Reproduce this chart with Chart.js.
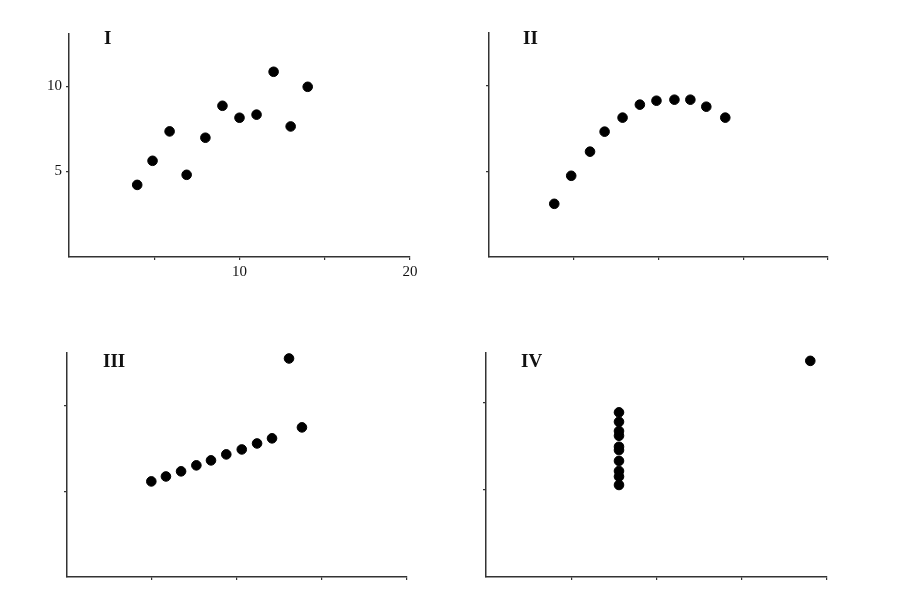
<!DOCTYPE html>
<html>
<head>
<meta charset="utf-8">
<script src="https://cdn.jsdelivr.net/npm/chart.js@4"></script>
<style>
  html, body { margin: 0; padding: 0; background: #fff; }
  #wrap { position: relative; width: 912px; height: 613px; overflow: hidden; }
  #wrap canvas { position: absolute; }
</style>
</head>
<body>
<div id="wrap"></div>
<script>
// Anscombe-style quartet, values

const xI  = [4.0, 4.9, 5.9, 6.9, 8.0, 9.0, 10.0, 11.0, 12.0, 13.0, 14.0];
const yI  = [4.22, 5.63, 7.35, 4.81, 6.98, 8.85, 8.15, 8.33, 10.84, 7.64, 9.96];

const xII = [3.85, 4.85, 5.96, 6.82, 7.88, 8.9, 9.88, 10.94, 11.88, 12.82, 13.94];
const yII = [3.11, 4.75, 6.16, 7.33, 8.15, 8.91, 9.14, 9.20, 9.20, 8.79, 8.15];

const xIII = [4.96, 5.82, 6.71, 7.61, 8.47, 9.37, 10.28, 11.18, 12.06, 13.06, 13.82];
const yIII = [5.59, 5.88, 6.18, 6.53, 6.82, 7.17, 7.46, 7.81, 8.11, 12.78, 8.75];

const xIV = [7.8, 7.8, 7.8, 7.8, 7.8, 7.8, 7.8, 7.8, 7.8, 7.8, 19.02];
const yIV = [9.43, 8.89, 8.36, 8.09, 7.46, 7.27, 6.65, 6.07, 5.75, 5.27, 12.38];

const panelNames = ['I', 'II', 'III', 'IV'];
const xTickValues = [5, 10, 15, 20];
const yTickValues = [5, 10];
const xTickLabels = [10, 20];   // only shown on panel I
const yTickLabels = [5, 10];

const AXIS = '#333';
const SERIF = '"Liberation Serif", "DejaVu Serif", serif';

// plot box of each panel on the page
const panels = [
  { xs: xI,   ys: yI,   box: { L: 69,  T: 34,  R: 410, B: 257 }, yMax: 13.05, labels: true,  nameAt: [35, 10] },
  { xs: xII,  ys: yII,  box: { L: 489, T: 33,  R: 828, B: 257 }, yMax: 13.1,  labels: false, nameAt: [34, 11] },
  { xs: xIII, ys: yIII, box: { L: 67,  T: 353, R: 407, B: 577 }, yMax: 13.1,  labels: false, nameAt: [36, 14] },
  { xs: xIV,  ys: yIV,  box: { L: 486, T: 353, R: 827, B: 577 }, yMax: 12.83, labels: false, nameAt: [35, 14] }
];

const PAD_L = 10, PAD_T = 20, PAD_R = 12, Y_W = 40, X_H = 30;

// draws the roman numeral inside the plot area
const panelName = {
  id: 'panelName',
  afterDraw: (chart, args, opts) => {
    const ctx = chart.ctx;
    const a = chart.chartArea;
    ctx.save();
    ctx.fillStyle = '#111';
    ctx.font = 'bold 19px ' + SERIF;
    ctx.textBaseline = 'alphabetic';
    ctx.textAlign = 'left';
    ctx.fillText(opts.text, a.left + opts.dx, a.top + opts.dy);
    ctx.restore();
  }
};

const wrap = document.getElementById('wrap');

panels.forEach((p, i) => {
  const b = p.box;
  const canvas = document.createElement('canvas');
  const w = (b.R - b.L) + PAD_L + Y_W + PAD_R;
  const h = (b.B - b.T) + PAD_T + X_H;
  canvas.width = w;
  canvas.height = h;
  canvas.style.width = w + 'px';
  canvas.style.height = h + 'px';
  canvas.style.left = (b.L - PAD_L - Y_W) + 'px';
  canvas.style.top = (b.T - PAD_T) + 'px';
  wrap.appendChild(canvas);

  const points = p.xs.map((x, k) => ({ x: x, y: p.ys[k] }));

  new Chart(canvas, {
    type: 'scatter',
    data: {
      datasets: [{
        data: points,
        backgroundColor: '#000',
        borderColor: '#000',
        pointRadius: 4.8,
        pointHoverRadius: 4.8,
        clip: false
      }]
    },
    options: {
      responsive: false,
      animation: false,
      events: [],
      layout: { padding: { left: PAD_L, top: PAD_T, right: PAD_R, bottom: 0 } },
      plugins: {
        legend: { display: false },
        tooltip: { enabled: false },
        panelName: { text: panelNames[i], dx: p.nameAt[0], dy: p.nameAt[1] }
      },
      scales: {
        x: {
          type: 'linear',
          min: 0,
          max: 20,
          afterBuildTicks: (s) => { s.ticks = xTickValues.map(v => ({ value: v })); },
          afterFit: (s) => { s.height = X_H; },
          grid: { drawOnChartArea: false, drawTicks: true, tickLength: 3, color: AXIS, lineWidth: 1.2 },
          border: { display: true, color: AXIS, width: 1.5 },
          ticks: {
            autoSkip: false,
            maxRotation: 0,
            padding: 3,
            color: '#111',
            font: { family: SERIF, size: 15 },
            callback: (v) => (p.labels && xTickLabels.includes(v)) ? String(v) : ''
          }
        },
        y: {
          type: 'linear',
          min: 0,
          max: p.yMax,
          afterBuildTicks: (s) => { s.ticks = yTickValues.map(v => ({ value: v })); },
          afterFit: (s) => { s.width = Y_W; },
          grid: { drawOnChartArea: false, drawTicks: true, tickLength: 3, color: AXIS, lineWidth: 1.2 },
          border: { display: true, color: AXIS, width: 1.5 },
          ticks: {
            autoSkip: false,
            padding: 4,
            color: '#111',
            font: { family: SERIF, size: 15 },
            callback: (v) => (p.labels && yTickLabels.includes(v)) ? String(v) : ''
          }
        }
      }
    },
    plugins: [panelName]
  });
});
</script>
</body>
</html>
